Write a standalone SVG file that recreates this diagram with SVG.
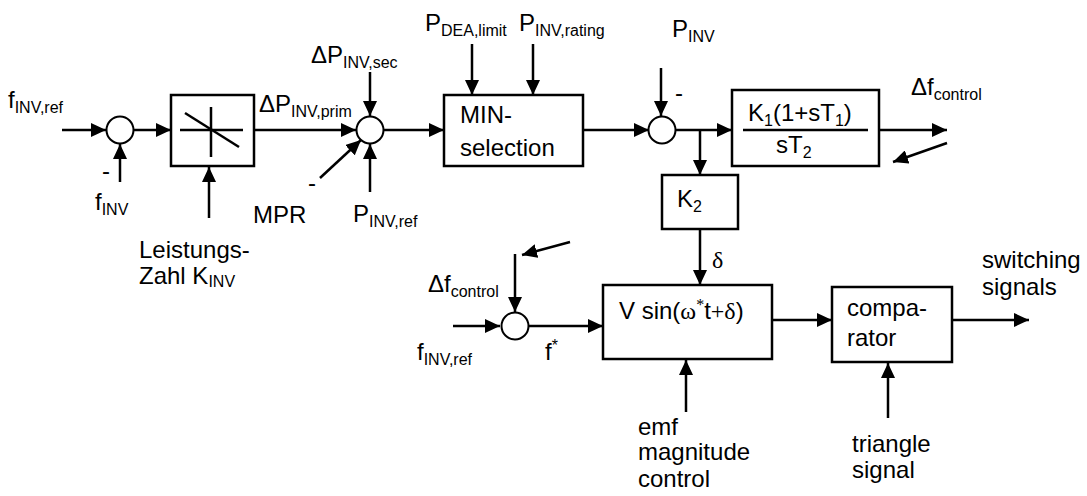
<svg xmlns="http://www.w3.org/2000/svg" width="1087" height="496" viewBox="0 0 1087 496">
<style>
.ln{stroke:#000;stroke-width:2.5;fill:none}
.bx{stroke:#000;stroke-width:2.5;fill:#fff}
.sm{stroke:#000;stroke-width:2;fill:#fff}
.a{marker-end:url(#ah)}
text{font-family:"Liberation Sans",Arial,sans-serif;font-size:24px;fill:#000}
.sub{font-size:16px}
.ser{font-family:"Liberation Serif","Times New Roman",serif}
</style>
<defs>
<marker id="ah" markerUnits="userSpaceOnUse" markerWidth="16" markerHeight="14" refX="15" refY="7" orient="auto">
<path d="M0,0 L15,7 L0,14 z" fill="#000"/>
</marker>
</defs>

<g id="connectors">
<line class="ln a" x1="62" y1="130" x2="106" y2="130"/>
<line class="ln a" x1="120" y1="182" x2="120" y2="144"/>
<line class="ln a" x1="134" y1="130" x2="171" y2="130"/>
<line class="ln a" x1="209" y1="218" x2="209" y2="167"/>
<line class="ln a" x1="254" y1="130" x2="356" y2="130"/>
<line class="ln a" x1="370" y1="72" x2="370" y2="116"/>
<line class="ln a" x1="320" y1="178" x2="361" y2="140"/>
<line class="ln a" x1="370" y1="192" x2="370" y2="144"/>
<line class="ln a" x1="383" y1="130" x2="444" y2="130"/>
<line class="ln a" x1="472" y1="44" x2="472" y2="95"/>
<line class="ln a" x1="533" y1="44" x2="533" y2="95"/>
<line class="ln a" x1="583" y1="130" x2="649" y2="130"/>
<line class="ln a" x1="661" y1="68" x2="661" y2="116"/>
<line class="ln a" x1="675" y1="130" x2="732" y2="130"/>
<line class="ln a" x1="700" y1="130" x2="700" y2="175"/>
<line class="ln a" x1="876" y1="130" x2="947" y2="130"/>
<line class="ln a" x1="947" y1="143" x2="893" y2="162"/>
<line class="ln a" x1="700" y1="229" x2="700" y2="285"/>
<line class="ln a" x1="570" y1="242" x2="522" y2="255"/>
<line class="ln a" x1="515" y1="254" x2="515" y2="312"/>
<line class="ln a" x1="453" y1="326" x2="500" y2="326"/>
<line class="ln a" x1="528" y1="326" x2="603" y2="326"/>
<line class="ln a" x1="686" y1="412" x2="686" y2="360"/>
<line class="ln a" x1="772" y1="320" x2="832" y2="320"/>
<line class="ln a" x1="952" y1="320" x2="1029" y2="320"/>
<line class="ln a" x1="888" y1="418" x2="888" y2="363"/>
</g>

<g id="sum1"><circle class="sm" cx="120" cy="130" r="13.5"/><text x="102" y="179">-</text></g>
<g id="characteristic">
<rect class="bx" x="171" y="95" width="83" height="71"/>
<line class="ln" x1="180" y1="130" x2="243" y2="130"/>
<line class="ln" x1="211" y1="107" x2="211" y2="157"/>
<line class="ln" x1="185" y1="113" x2="239" y2="147"/>
</g>
<g id="sum2"><circle class="sm" cx="370" cy="130" r="13.5"/><text x="308" y="191">-</text></g>
<g id="minsel"><rect class="bx" x="444" y="95" width="139" height="71"/>
<text x="460" y="123">MIN-</text><text x="460" y="156">selection</text></g>
<g id="sum3"><circle class="sm" cx="662" cy="130" r="13.5"/><text x="675" y="101">-</text></g>
<g id="k1box"><rect class="bx" x="732" y="90" width="147" height="76"/>
<line class="ln" x1="743" y1="130" x2="868" y2="130"/>
<text x="748" y="121">K<tspan class="sub" dy="5">1</tspan><tspan dy="-5">(1+sT</tspan><tspan class="sub" dy="5">1</tspan><tspan dy="-5">)</tspan></text>
<text x="776" y="153">sT<tspan class="sub" dy="5">2</tspan></text></g>
<g id="k2box"><rect class="bx" x="662" y="175" width="76" height="54"/>
<text x="677" y="207">K<tspan class="sub" dy="5">2</tspan></text></g>
<g id="sum4"><circle class="sm" cx="515" cy="326" r="13.5"/></g>
<g id="vsin"><rect class="bx" x="603" y="285" width="169" height="74"/>
<text x="619" y="319">V sin(<tspan class="ser">ω</tspan><tspan class="sub ser" dy="-9">*</tspan><tspan dy="9">t</tspan><tspan class="ser">+δ</tspan>)</text></g>
<g id="comparator"><rect class="bx" x="832" y="287" width="120" height="75"/>
<text x="847" y="316">compa-</text><text x="847" y="346">rator</text></g>

<g id="labels">
<text x="8" y="108">f<tspan class="sub" dy="5">INV,ref</tspan></text>
<text x="95" y="210">f<tspan class="sub" dy="5">INV</tspan></text>
<text x="139" y="258">Leistungs-</text>
<text x="139" y="284">Zahl K<tspan class="sub" dy="3">INV</tspan></text>
<text x="259" y="112">ΔP<tspan class="sub" dy="5">INV,prim</tspan></text>
<text x="311" y="63">ΔP<tspan class="sub" dy="5">INV,sec</tspan></text>
<text x="253" y="223">MPR</text>
<text x="353" y="222">P<tspan class="sub" dy="5">INV,ref</tspan></text>
<text x="425" y="31">P<tspan class="sub" dy="5">DEA,limit</tspan></text>
<text x="519" y="31">P<tspan class="sub" dy="5">INV,rating</tspan></text>
<text x="672" y="37">P<tspan class="sub" dy="5">INV</tspan></text>
<text x="911" y="95">Δf<tspan class="sub" dy="5">control</tspan></text>
<text x="712" y="268" class="ser">δ</text>
<text x="428" y="292">Δf<tspan class="sub" dy="5">control</tspan></text>
<text x="417" y="360">f<tspan class="sub" dy="5">INV,ref</tspan></text>
<text x="545" y="360">f<tspan class="sub" dy="-9">*</tspan></text>
<text x="982" y="268">switching</text>
<text x="982" y="295">signals</text>
<text x="638" y="435">emf</text>
<text x="638" y="460">magnitude</text>
<text x="638" y="487">control</text>
<text x="852" y="452">triangle</text>
<text x="852" y="478">signal</text>
</g>
</svg>
